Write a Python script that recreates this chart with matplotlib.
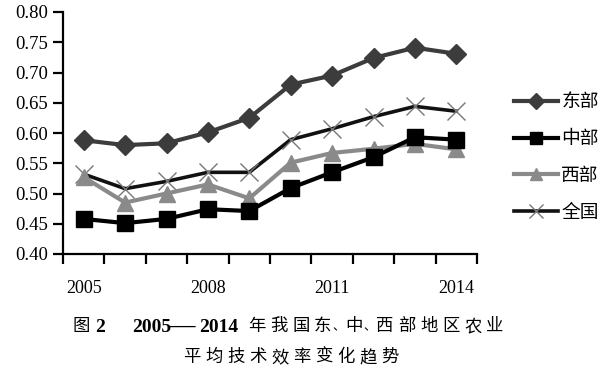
import matplotlib
matplotlib.use("Agg")
import matplotlib.pyplot as plt
from matplotlib.ticker import FixedLocator

# 数据
years = [2005, 2006, 2007, 2008, 2009, 2010, 2011, 2012, 2013, 2014]
east = [0.588, 0.580, 0.583, 0.601, 0.625, 0.680, 0.695, 0.724, 0.741, 0.731]
middle = [0.458, 0.451, 0.458, 0.474, 0.471, 0.509, 0.535, 0.560, 0.593, 0.589]
west = [0.527, 0.485, 0.500, 0.515, 0.492, 0.551, 0.567, 0.574, 0.582, 0.573]
national = [0.532, 0.508, 0.520, 0.535, 0.535, 0.589, 0.607, 0.627, 0.644, 0.636]
labels = ["东部", "中部", "西部", "全国"]
yticks = [0.40, 0.45, 0.50, 0.55, 0.60, 0.65, 0.70, 0.75, 0.80]
shown_years = [2005, 2008, 2011, 2014]
caption1 = "年我国东、中、西部地区农业"
caption2 = "平均技术效率变化趋势"

serif = ["Liberation Serif", "DejaVu Serif"]
cjk = ["Liberation Serif", "Noto Sans CJK SC", "DejaVu Sans"]
W, H = 609, 368

fig = plt.figure(figsize=(W / 100, H / 100), dpi=100)
ax = fig.add_axes([63 / W, 1 - 254 / H, (477 - 63) / W, (254 - 12) / H])

x = list(range(len(years)))
ax.plot(x, east, color="#3c3c3c", lw=3, marker="D", ms=10.5, label=labels[0], zorder=3)
ax.plot(x, middle, color="#000000", lw=3, marker="s", ms=11, label=labels[1], zorder=4)
ax.plot(x, west, color="#8a8a8a", lw=3, marker="^", ms=11.5, label=labels[2], zorder=3)
ax.plot(x, national, color="#111111", lw=2.6, marker="x", ms=13, mew=1.0,
        mec="#777777", label=labels[3], zorder=2)

ax.set_xlim(-0.5, len(years) - 0.5)
ax.set_ylim(0.40, 0.80)
ax.set_yticks(yticks)
ax.set_yticklabels([f"{v:.2f}" for v in yticks], fontfamily=serif, fontsize=13.5)

pos = [years.index(y) for y in shown_years]
ax.set_xticks(pos)
ax.set_xticklabels([str(y) for y in shown_years], fontfamily=serif, fontsize=13)
ax.xaxis.set_minor_locator(FixedLocator([i - 0.5 for i in range(len(years) + 1)]))
ax.tick_params(axis="x", which="major", length=0, pad=19)
ax.tick_params(axis="x", which="minor", length=7, width=1.6, direction="out")
ax.tick_params(axis="y", length=7, width=1.6, direction="out", pad=4)

for s in ["top", "right"]:
    ax.spines[s].set_visible(False)
for s in ["left", "bottom"]:
    ax.spines[s].set_linewidth(1.6)

leg = ax.legend(loc="center left", bbox_to_anchor=(505 / W, 1 - 158 / H),
                bbox_transform=fig.transFigure, frameon=False, borderpad=0,
                handlelength=2.35, handletextpad=0.15, labelspacing=1.05,
                markerscale=0.8, prop={"family": cjk, "size": 13.5})

# 图题（逐字排布，模仿中文排版的字距）
def px(xp, yp):
    return xp / W, 1 - yp / H

y1, y2 = 327, 358
fig.text(*px(73, y1), "图", ha="left", va="center", fontsize=12.5, family=cjk,
         fontweight="medium")
fig.text(*px(95, y1), "2", ha="left", va="center", fontsize=14, family=serif,
         fontweight="bold")
fig.text(*px(132, y1), "2005", ha="left", va="center", fontsize=14, family=serif,
         fontweight="bold")
fig.text(*px(168, y1 - 1), "—", ha="left", va="center", fontsize=19, family=serif,
         fontweight="bold")
fig.text(*px(199, y1), "2014", ha="left", va="center", fontsize=14, family=serif,
         fontweight="bold")
xc = 248
for ch in caption1:
    if ch == "、":
        fig.text(*px(xc - 4, y1), ch, ha="left", va="center", fontsize=9,
                 family=cjk)
        xc += 9
    else:
        fig.text(*px(xc, y1), ch, ha="left", va="center", fontsize=12.5,
                 family=cjk, fontweight="medium")
        xc += 22
xc = 183
for ch in caption2:
    fig.text(*px(xc, y2), ch, ha="left", va="center", fontsize=12.5, family=cjk,
             fontweight="medium")
    xc += 22

fig.savefig("out.png", dpi=100)
